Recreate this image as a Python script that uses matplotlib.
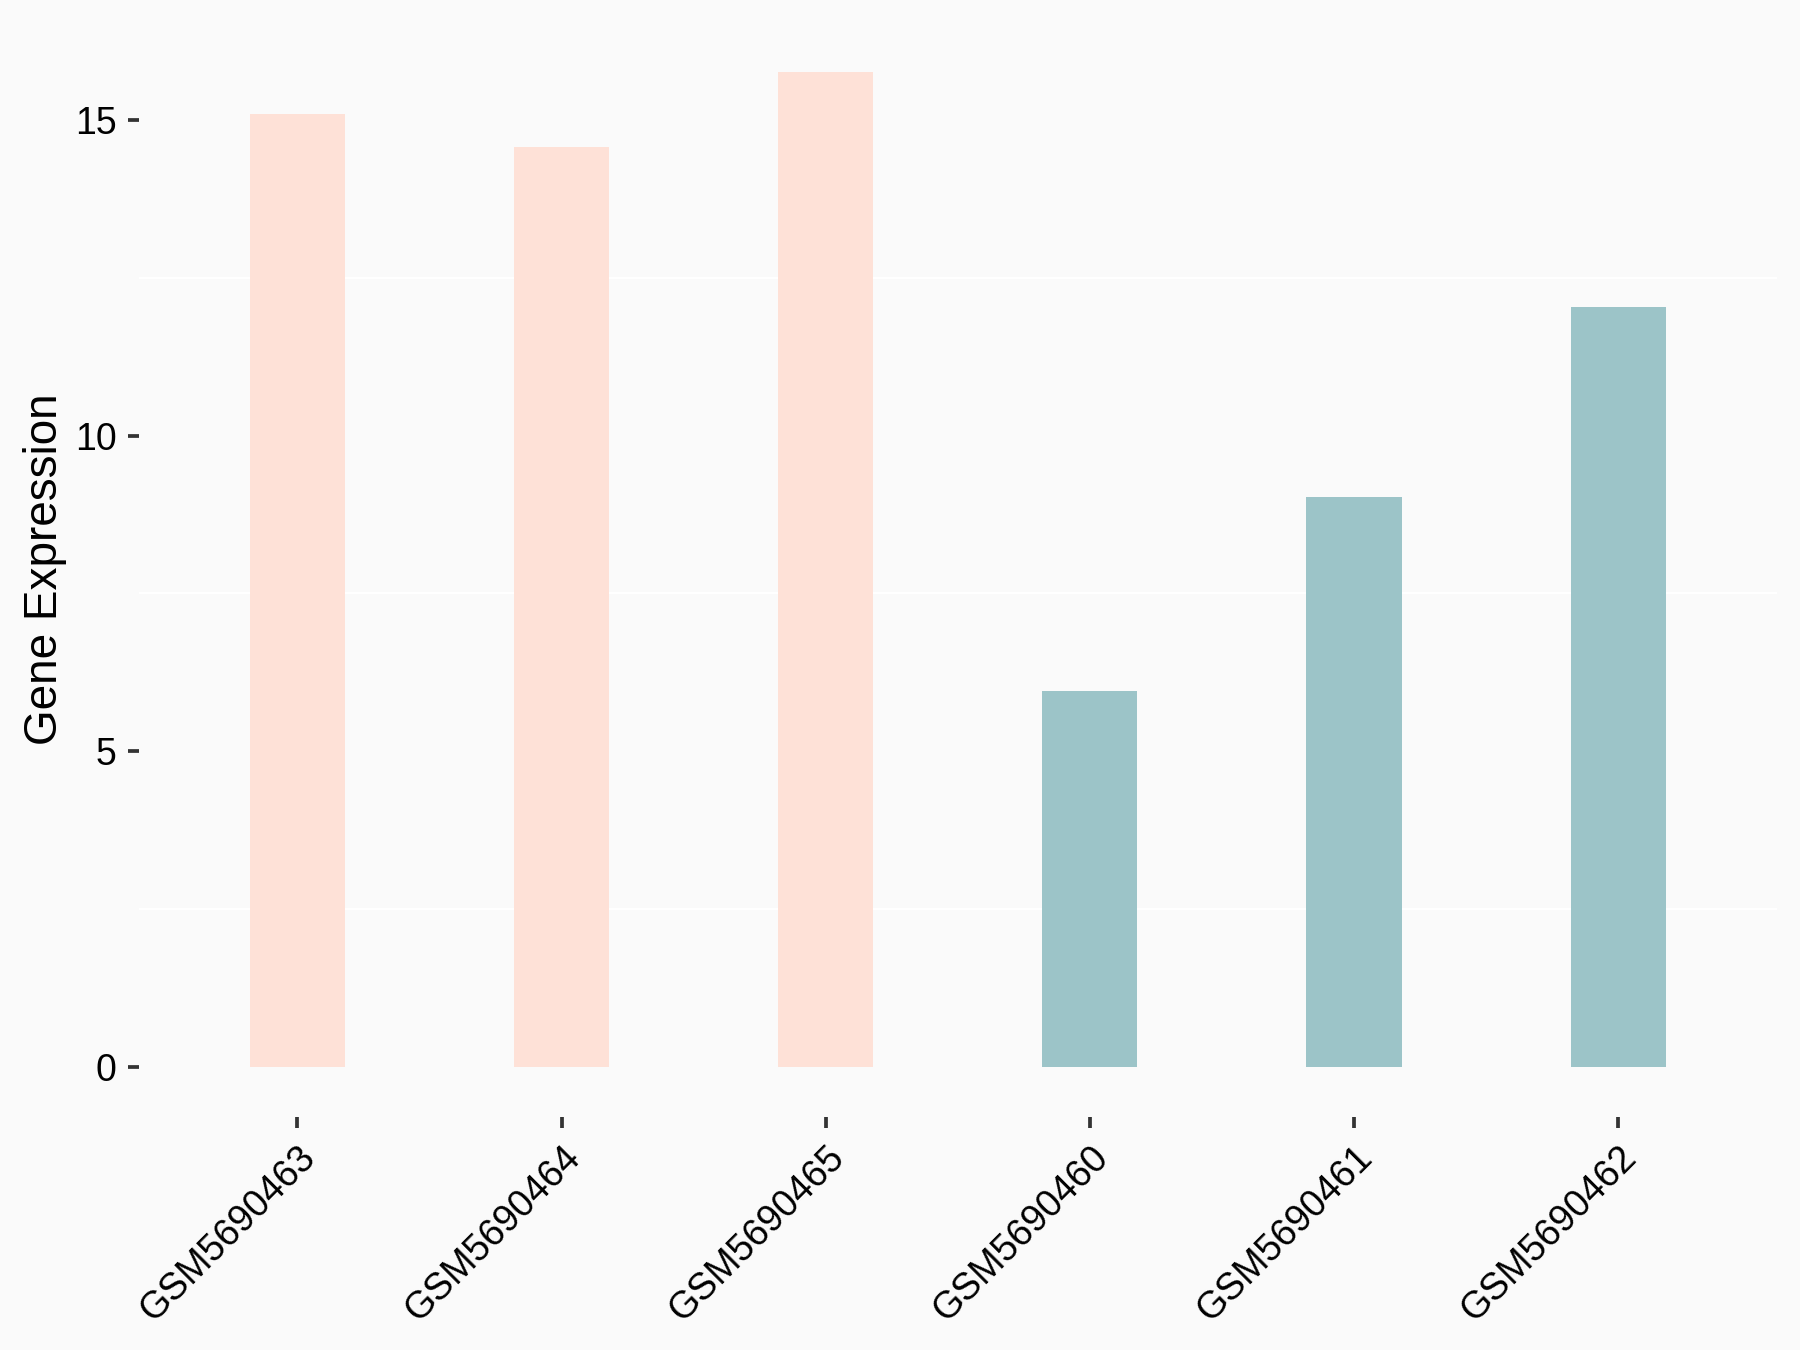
import numpy as np
import matplotlib.pyplot as plt
from matplotlib.ticker import MultipleLocator

samples = ['GSM5690463', 'GSM5690464', 'GSM5690465',
           'GSM5690460', 'GSM5690461', 'GSM5690462']
expr = [15.09, 14.57, 15.76, 5.95, 9.03, 12.03]
groups = ['A', 'A', 'A', 'B', 'B', 'B']
group_colors = {'A': '#FEE1D7', 'B': '#9CC4C8'}

plt.rcParams['font.family'] = ['Liberation Sans', 'DejaVu Sans']

fig = plt.figure(figsize=(6, 4.5), dpi=300, facecolor='#FAFAFA')
ax = fig.add_axes([0.0772, 0.1726, 0.9098, 0.8111])
ax.set_facecolor('#FAFAFA')

x = np.arange(len(samples))
ax.bar(x, expr, width=0.36, color=[group_colors[g] for g in groups],
       zorder=2)

rng = max(expr)
ax.set_xlim(-0.6, len(samples) - 0.4)
ax.set_ylim(-0.05 * rng, rng * 1.05)

ax.yaxis.set_major_locator(MultipleLocator(5))
ax.yaxis.set_minor_locator(MultipleLocator(2.5))
ax.grid(which='minor', axis='y', color='white', linewidth=0.5, zorder=0)
ax.tick_params(axis='y', which='minor', length=0)

ax.set_xticks(x)
ax.set_xticklabels(samples, rotation=45, ha='right', rotation_mode='anchor')
ax.tick_params(axis='both', which='major', length=2.75, width=0.9,
               color='#333333', labelsize=9, labelcolor='black', pad=2.6)
ax.set_ylabel('Gene Expression', fontsize=11, labelpad=2)

for s in ax.spines.values():
    s.set_visible(False)

fig.savefig('out.png', dpi=300, facecolor=fig.get_facecolor())
